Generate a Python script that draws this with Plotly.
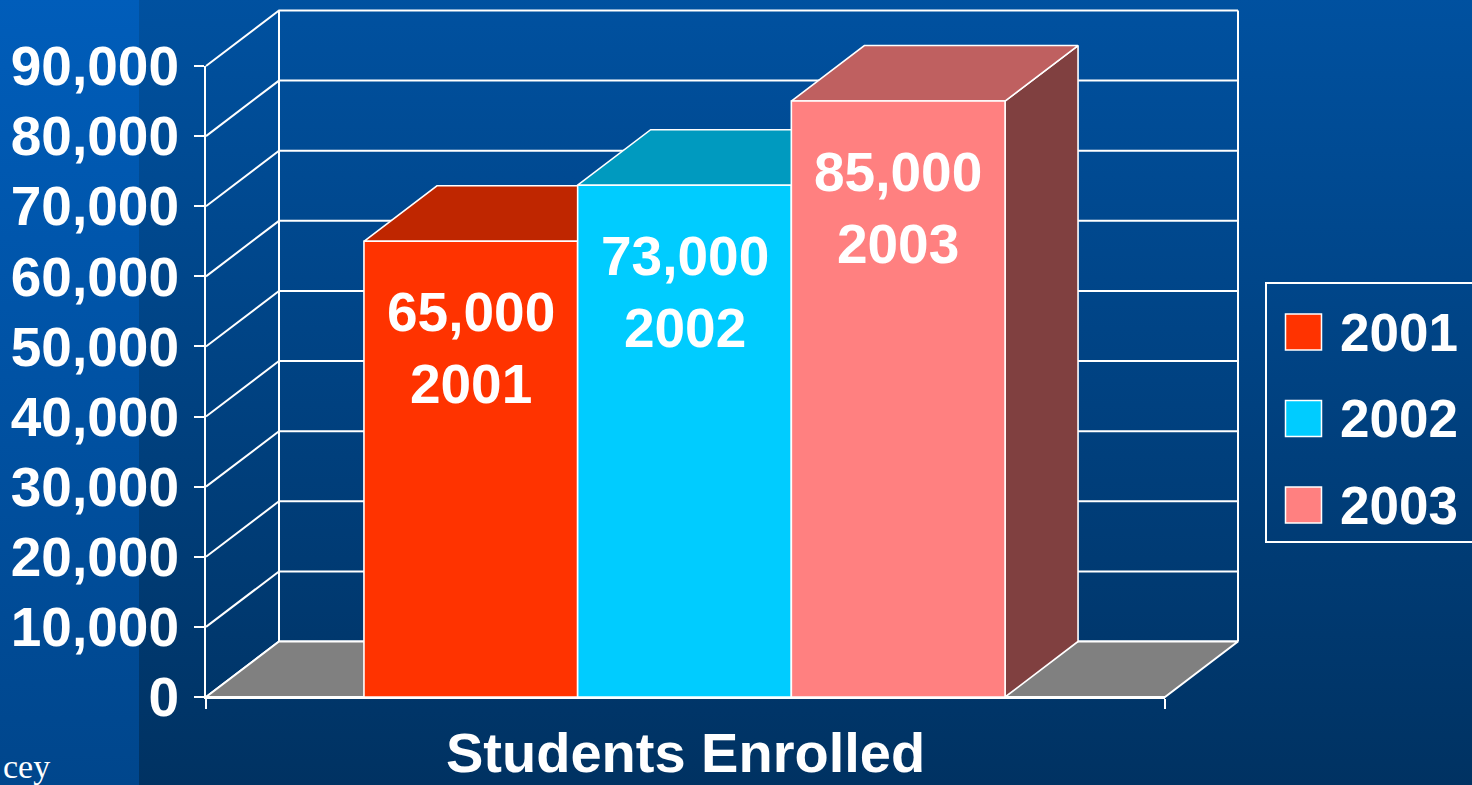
import plotly.graph_objects as go

# ---------------- data ----------------
years = ["2001", "2002", "2003"]
students = [65000, 73000, 85000]
y_ticks = [0, 10000, 20000, 30000, 40000, 50000, 60000, 70000, 80000, 90000]
axis_title = "Students Enrolled"
footer_text = "cey"

# ---------------- styles ----------------
front_colors = ["#FF3300", "#00CCFF", "#FF8080"]
top_colors = ["#BF2600", "#009ABF", "#BF6060"]
side_colors = ["#801A00", "#006680", "#804040"]
FONT = "Liberation Sans, Arial, sans-serif"

W, H = 1472, 785
PX_LEFT, PX_RIGHT = 206, 1165      # front axis extent (pixels)
PX_ZERO, PX_TOP = 697, 66          # y pixel of 0 and of the max tick
Y_MAX = 90000
BAR0_CENTER_PX, BAR_PX = 470.8, 213.7
DEPTH_DX_PX, DEPTH_DY_PX = 73, 55.5

ppy = (PX_ZERO - PX_TOP) / Y_MAX


def px2x(px):
    return (px - BAR0_CENTER_PX) / BAR_PX


def px2y(py):
    return (PX_ZERO - py) / ppy


XL, XR = px2x(PX_LEFT), px2x(PX_RIGHT)
DX, DY = DEPTH_DX_PX / BAR_PX, DEPTH_DY_PX / ppy

fig = go.Figure()

# ---------------- background ----------------
def rect_bg(x0px, x1px, bottom, top):
    fig.add_trace(go.Scatter(
        x=[px2x(x0px), px2x(x1px), px2x(x1px), px2x(x0px), px2x(x0px)],
        y=[px2y(H + 2), px2y(H + 2), px2y(-2), px2y(-2), px2y(H + 2)],
        mode="lines", line=dict(width=0), fill="toself",
        fillgradient=dict(type="vertical", colorscale=[[0, bottom], [1, top]]),
        hoverinfo="skip", showlegend=False))


rect_bg(-2, 139, "#00468C", "#005DBA")
rect_bg(139, W + 2, "#003262", "#0051A0")

# ---------------- back wall grid ----------------
gx, gy = [], []
for v in y_ticks:
    gx += [XL, XL + DX, XR + DX, None]
    gy += [v, v + DY, v + DY, None]
gx += [XL + DX, XL + DX, None, XR + DX, XR + DX, None]
gy += [DY, Y_MAX + DY, None, DY, Y_MAX + DY, None]
fig.add_trace(go.Scatter(x=gx, y=gy, mode="lines",
                         line=dict(color="white", width=2),
                         hoverinfo="skip", showlegend=False))

# ---------------- floor ----------------
fig.add_trace(go.Scatter(
    x=[XL, XR, XR + DX, XL + DX, XL], y=[0, 0, DY, DY, 0],
    mode="lines", fill="toself", fillcolor="#808080",
    line=dict(color="white", width=2), hoverinfo="skip", showlegend=False))

# ---------------- bars ----------------
def poly(xs, ys, color):
    fig.add_trace(go.Scatter(
        x=xs + [xs[0]], y=ys + [ys[0]], mode="lines", fill="toself",
        fillcolor=color, line=dict(color="white", width=1.6),
        hoverinfo="skip", showlegend=False))


for i, v in enumerate(students):
    l, r = i - 0.5, i + 0.5
    poly([r, r + DX, r + DX, r], [0, DY, v + DY, v], side_colors[i])
    poly([l, r, r + DX, l + DX], [v, v, v + DY, v + DY], top_colors[i])
for i, v in enumerate(students):
    l, r = i - 0.5, i + 0.5
    poly([l, r, r, l], [0, 0, v, v], front_colors[i])

# ---------------- bar labels ----------------
label_drop = 107 / ppy
for i, (yr, v) in enumerate(zip(years, students)):
    fig.add_annotation(x=i, y=v - label_drop, xref="x", yref="y",
                       text=f"{v:,}<br>{yr}", showarrow=False,
                       xanchor="center", yanchor="middle",
                       font=dict(family=FONT, size=55, color="white", weight="bold"))

# ---------------- legend ----------------
LEG_TOP_PX, LEG_STEP_PX = 332, 86.5
fig.add_shape(type="rect", xref="paper", yref="paper",
              x0=1266 / W, x1=1495 / W, y0=1 - 283 / H, y1=1 - 542 / H,
              line=dict(color="white", width=2), fillcolor="rgba(0,0,0,0)")
for k, yr in enumerate(years):
    yc = LEG_TOP_PX + k * LEG_STEP_PX
    fig.add_trace(go.Scatter(
        x=[px2x(1303.5)], y=[px2y(yc)], mode="markers",
        marker=dict(symbol="square", size=36, color=front_colors[k],
                    line=dict(color="white", width=1.5)),
        hoverinfo="skip", showlegend=False))
    fig.add_annotation(x=px2x(1338), y=px2y(yc), xref="x", yref="y",
                       text=yr, showarrow=False, xanchor="left", yanchor="middle",
                       font=dict(family=FONT, size=53, color="white", weight="bold"))

# ---------------- axis title & footer ----------------
fig.add_annotation(x=(XL + XR) / 2, y=px2y(752), xref="x", yref="y",
                   text=axis_title, showarrow=False, xanchor="center", yanchor="middle",
                   font=dict(family=FONT, size=56, color="white", weight="bold"))
fig.add_annotation(x=px2x(0.5), y=px2y(766), xref="x", yref="y",
                   text=footer_text, showarrow=False, xanchor="left", yanchor="middle",
                   font=dict(family="Liberation Serif, Times New Roman, serif",
                             size=34, color="white"))

# ---------------- front axes ----------------
fig.add_trace(go.Scatter(x=[XL], y=[0], xaxis="x2", yaxis="y2", mode="markers",
                         marker=dict(opacity=0), hoverinfo="skip", showlegend=False))

fig.update_layout(
    width=W, height=H, autosize=False,
    margin=dict(l=0, r=0, t=0, b=0, pad=0, autoexpand=False),
    paper_bgcolor="#003A75", plot_bgcolor="rgba(0,0,0,0)",
    showlegend=False,
    xaxis=dict(range=[px2x(0), px2x(W)], domain=[0, 1], visible=False,
               fixedrange=True, automargin=False),
    yaxis=dict(range=[px2y(H), px2y(0)], domain=[0, 1], visible=False,
               fixedrange=True, automargin=False),
    xaxis2=dict(domain=[PX_LEFT / W, PX_RIGHT / W], range=[XL, XR], anchor="y2",
                showline=True, linecolor="white", linewidth=2,
                ticks="outside", ticklen=10, tickwidth=2, tickcolor="white",
                tickvals=[XL, XR], showticklabels=False, automargin=False,
                showgrid=False, zeroline=False, fixedrange=True),
    yaxis2=dict(domain=[(H - PX_ZERO) / H, (H - PX_TOP) / H], range=[0, Y_MAX],
                anchor="x2", showline=True, linecolor="white", linewidth=2,
                ticks="outside", ticklen=10, tickwidth=2, tickcolor="white",
                tickvals=y_ticks, tickformat=",", ticklabelstandoff=4,
                automargin=False,
                tickfont=dict(family=FONT, size=55, color="white", weight="bold"),
                showgrid=False, zeroline=False, fixedrange=True),
)

fig.write_html("out.html")
